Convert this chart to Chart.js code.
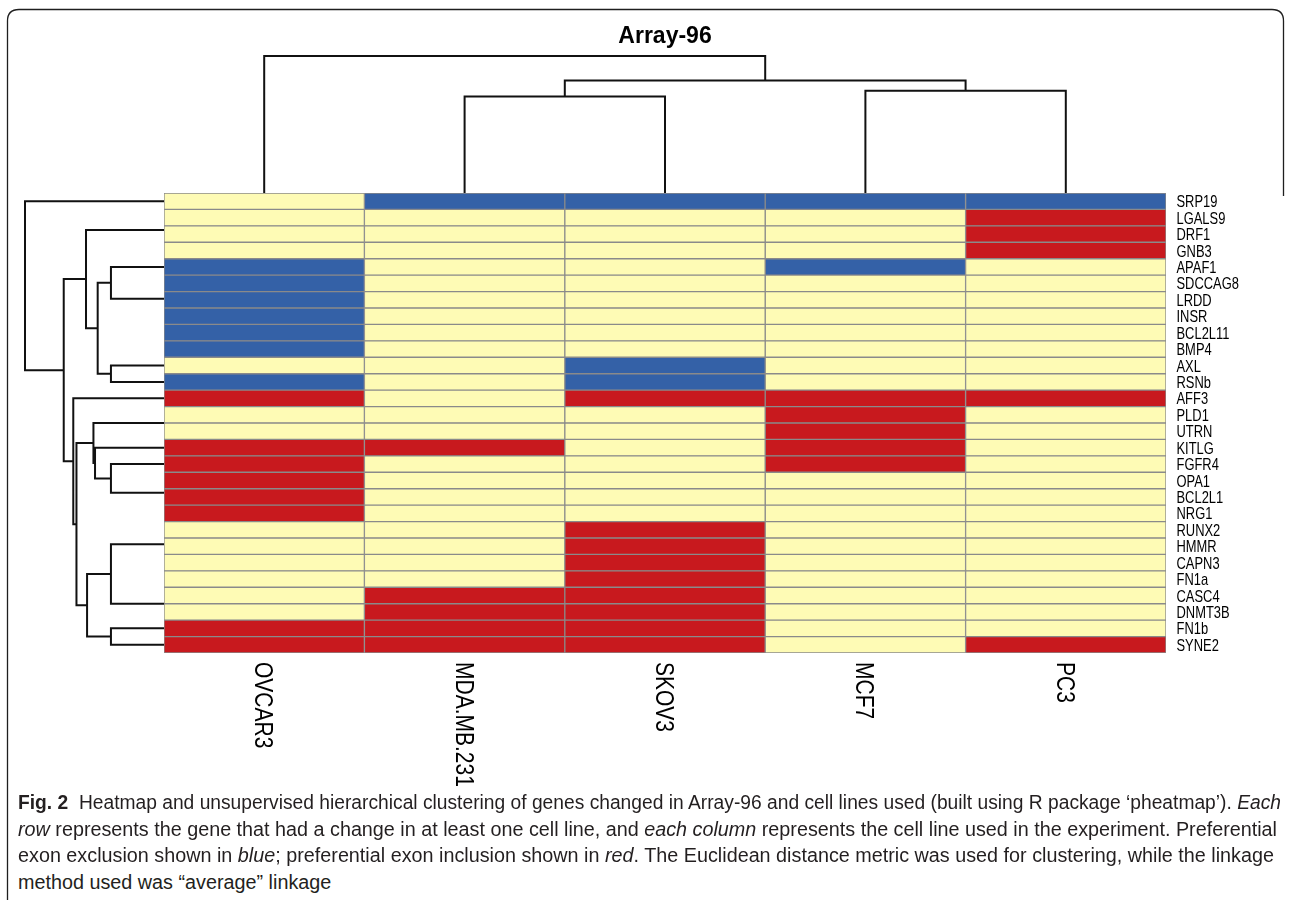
<!DOCTYPE html>
<html>
<head>
<meta charset="utf-8">
<script src="https://cdn.jsdelivr.net/npm/chart.js@4.4.1/dist/chart.umd.min.js"></script>
<style>
  html, body { margin: 0; padding: 0; background: #ffffff; }
  #fig { position: relative; width: 1292px; height: 900px; overflow: hidden; background: #ffffff; }
  #frame { position: absolute; left: 0; top: 0; }
  #chart { position: absolute; left: 0; top: 0; }
  .cap {
    position: absolute; left: 18px; white-space: nowrap;
    font-family: "Liberation Sans", Arial, sans-serif; font-size: 20px; line-height: 22px;
    color: #231f20; transform-origin: 0 50%;
  }
</style>
</head>
<body>
<div id="fig">
  <svg id="frame" width="1292" height="900">
    <path d="M7.5,900 V21 Q7.5,9.5 19,9.5 H1272 Q1283.5,9.5 1283.5,21 V196" fill="none" stroke="#1e1e1e" stroke-width="1.3"/>
  </svg>
  <canvas id="chart" width="1292" height="800" style="width:1292px;height:800px"></canvas>
  <div class="cap" data-w="1263" style="top:791px"><b>Fig. 2</b>&nbsp; Heatmap and unsupervised hierarchical clustering of genes changed in Array-96 and cell lines used (built using R package ‘pheatmap’). <i>Each</i></div>
  <div class="cap" data-w="1259" style="top:818px"><i>row</i> represents the gene that had a change in at least one cell line, and <i>each column</i> represents the cell line used in the experiment. Preferential</div>
  <div class="cap" data-w="1256" style="top:844px">exon exclusion shown in <i>blue</i>; preferential exon inclusion shown in <i>red</i>. The Euclidean distance metric was used for clustering, while the linkage</div>
  <div class="cap" style="top:871px">method used was “average” linkage</div>
</div>
<script>
// ---- data -------------------------------------------------------------
const chartTitle = 'Array-96';

const genes = ['SRP19', 'LGALS9', 'DRF1', 'GNB3', 'APAF1', 'SDCCAG8', 'LRDD', 'INSR',
  'BCL2L11', 'BMP4', 'AXL', 'RSNb', 'AFF3', 'PLD1', 'UTRN', 'KITLG', 'FGFR4', 'OPA1',
  'BCL2L1', 'NRG1', 'RUNX2', 'HMMR', 'CAPN3', 'FN1a', 'CASC4', 'DNMT3B', 'FN1b', 'SYNE2'];

const cellLines = ['OVCAR3', 'MDA.MB.231', 'SKOV3', 'MCF7', 'PC3'];

// -1 = preferential exon exclusion, 0 = no change, 1 = preferential exon inclusion
const ovcar3   = [0, 0, 0, 0, -1, -1, -1, -1, -1, -1, 0, -1, 1, 0, 0, 1, 1, 1, 1, 1, 0, 0, 0, 0, 0, 0, 1, 1];
const mdaMb231 = [-1, 0, 0, 0, 0, 0, 0, 0, 0, 0, 0, 0, 0, 0, 0, 1, 0, 0, 0, 0, 0, 0, 0, 0, 1, 1, 1, 1];
const skov3    = [-1, 0, 0, 0, 0, 0, 0, 0, 0, 0, -1, -1, 1, 0, 0, 0, 0, 0, 0, 0, 1, 1, 1, 1, 1, 1, 1, 1];
const mcf7     = [-1, 0, 0, 0, -1, 0, 0, 0, 0, 0, 0, 0, 1, 1, 1, 1, 1, 0, 0, 0, 0, 0, 0, 0, 0, 0, 0, 0];
const pc3      = [-1, 1, 1, 1, 0, 0, 0, 0, 0, 0, 0, 0, 1, 0, 0, 0, 0, 0, 0, 0, 0, 0, 0, 0, 0, 0, 0, 1];

// Row clustering: each merge joins two members (gene name or '#k' = k-th merge)
const rowMerges = [
  ['DRF1', 'GNB3'], ['LGALS9', '#1'],
  ['BCL2L11', 'BMP4'], ['INSR', '#3'], ['LRDD', '#4'], ['SDCCAG8', '#5'], ['APAF1', '#6'],
  ['AXL', 'RSNb'], ['#7', '#8'], ['#2', '#9'],
  ['PLD1', 'UTRN'], ['BCL2L1', 'NRG1'], ['OPA1', '#12'], ['FGFR4', '#13'], ['KITLG', '#14'], ['#11', '#15'],
  ['CAPN3', 'FN1a'], ['HMMR', '#17'], ['RUNX2', '#18'], ['CASC4', 'DNMT3B'], ['#19', '#20'],
  ['FN1b', 'SYNE2'], ['#21', '#22'], ['#16', '#23'], ['AFF3', '#24'], ['#10', '#25'], ['SRP19', '#26']
];
const rowMergeHeights = [0, 0, 0, 0, 0, 0, 1.0, 1.0, 1.25, 1.47, 0, 0, 0, 1.0, 1.30, 1.33,
  0, 0, 0, 0, 1.0, 1.0, 1.45, 1.65, 1.71, 1.89, 2.62];

// Column clustering
const colMerges = [['MDA.MB.231', 'SKOV3'], ['MCF7', 'PC3'], ['#1', '#2'], ['OVCAR3', '#3']];
const colMergeHeights = [2.83, 3.0, 3.30, 4.02];

// ---- styling / layout ---------------------------------------------------
const cellColors = { '-1': '#3461a7', '0': '#fefbb5', '1': '#c8191e' };
const gridColor = '#8a8a8a';
const treeColor = '#111111';
const canvasW = 1292, canvasH = 800;
const area = { left: 164, top: 193, right: 1166, bottom: 653 };
const rowTreeBand = 139;   // pixels from heatmap edge to row-tree root
const colTreeBand = 137;   // pixels from heatmap edge to column-tree root

const columns = [ovcar3, mdaMb231, skov3, mcf7, pc3];

// Build the dendrogram polyline (links separated by gaps)
function dendrogram(names, merges, heights, orient) {
  const pos = [], hgt = [], pts = [];
  const member = ref => {
    if (ref[0] === '#') { const k = Number(ref.slice(1)) - 1; return [pos[k], hgt[k]]; }
    return [names.indexOf(ref) + 0.5, 0];
  };
  merges.forEach(([a, b], k) => {
    const [pa, ha] = member(a), [pb, hb] = member(b), h = heights[k];
    pos[k] = (pa + pb) / 2; hgt[k] = h;
    if (h > 0) {
      [[ha, pa], [h, pa], [h, pb], [hb, pb]].forEach(([v, p]) => pts.push(orient(v, p)));
      pts.push({ x: null, y: null });
    }
  });
  return pts;
}

const rowTree = dendrogram(genes, rowMerges, rowMergeHeights, (h, p) => ({ x: h, y: p }));
const colTree = dendrogram(cellLines, colMerges, colMergeHeights, (h, p) => ({ x: p, y: h }));

const areaW = area.right - area.left, areaH = area.bottom - area.top;
const rowTreeSpan = Math.max(...rowMergeHeights) * areaW / rowTreeBand;
const colTreeSpan = Math.max(...colMergeHeights) * areaH / colTreeBand;

const heatDatasets = cellLines.map((name, j) => ({
  type: 'bar',
  label: name,
  indexAxis: 'y',
  xAxisID: 'x',
  yAxisID: 'y',
  data: columns[j].map(() => [j, j + 1]),
  backgroundColor: columns[j].map(v => cellColors[v]),
  borderColor: gridColor,
  borderWidth: 1,
  borderSkipped: false,
  barPercentage: 1,
  categoryPercentage: 1,
  grouped: false
}));

const treeStyle = {
  type: 'line',
  borderColor: treeColor,
  borderWidth: 2,
  pointRadius: 0,
  pointHoverRadius: 0,
  fill: false,
  tension: 0,
  spanGaps: false,
  clip: false,
  borderJoinStyle: 'miter'
};

// Gene names, cell-line names and the title
const labelPlugin = {
  id: 'heatLabels',
  afterDraw(chart) {
    const { ctx, chartArea: a, scales } = chart;
    ctx.save();
    ctx.fillStyle = '#000000';
    ctx.textAlign = 'left';
    ctx.textBaseline = 'alphabetic';

    const rowFont = 17;
    ctx.font = rowFont + 'px "Liberation Sans", Arial, sans-serif';
    genes.forEach((g, i) => {
      const y = scales.y.getPixelForValue(i);
      ctx.save();
      ctx.translate(a.right + 10.5, y + rowFont * 0.716 / 2);
      ctx.scale(0.76, 1);
      ctx.fillText(g, 0, 0);
      ctx.restore();
    });

    const colFont = 25;
    ctx.font = colFont + 'px "Liberation Sans", Arial, sans-serif';
    cellLines.forEach((c, j) => {
      const x = scales.x.getPixelForValue(j + 0.5);
      ctx.save();
      ctx.translate(x - colFont * 0.716 / 2, a.bottom + 9);
      ctx.rotate(Math.PI / 2);
      ctx.scale(0.84, 1);
      ctx.fillText(c, 0, 0);
      ctx.restore();
    });

    ctx.font = 'bold 23px "Liberation Sans", Arial, sans-serif';
    ctx.textAlign = 'center';
    ctx.fillText(chartTitle, (a.left + a.right) / 2, 43);
    ctx.restore();
  }
};

new Chart(document.getElementById('chart'), {
  type: 'bar',
  data: {
    labels: genes,
    datasets: [
      ...heatDatasets,
      Object.assign({ label: 'gene tree', data: rowTree, xAxisID: 'xLeftTree', yAxisID: 'yRow' }, treeStyle),
      Object.assign({ label: 'cell-line tree', data: colTree, xAxisID: 'x', yAxisID: 'yTopTree' }, treeStyle)
    ]
  },
  options: {
    responsive: false,
    animation: false,
    events: [],
    layout: {
      padding: {
        left: area.left, top: area.top,
        right: canvasW - area.right, bottom: canvasH - area.bottom
      }
    },
    plugins: { legend: { display: false }, tooltip: { enabled: false }, title: { display: false } },
    scales: {
      x: { type: 'linear', position: 'bottom', min: 0, max: cellLines.length, offset: false, display: false },
      y: { type: 'category', position: 'left', labels: genes, offset: true, display: false },
      yRow: { type: 'linear', position: 'left', min: 0, max: genes.length, reverse: true, offset: false, display: false },
      xLeftTree: { type: 'linear', position: 'bottom', min: -rowTreeSpan, max: 0, reverse: true, offset: false, display: false },
      yTopTree: { type: 'linear', position: 'left', min: -colTreeSpan, max: 0, offset: false, display: false }
    }
  },
  plugins: [labelPlugin]
});

// Justify the caption lines to the figure width
(function () {
  const lines = Array.from(document.querySelectorAll('.cap'));
  let last = 1;
  lines.forEach(el => {
    const natural = el.getBoundingClientRect().width;
    const target = Number(el.dataset.w);
    const k = target ? target / natural : last;
    last = k;
    el.style.transform = 'scaleX(' + k.toFixed(4) + ')';
  });
})();
</script>
</body>
</html>
